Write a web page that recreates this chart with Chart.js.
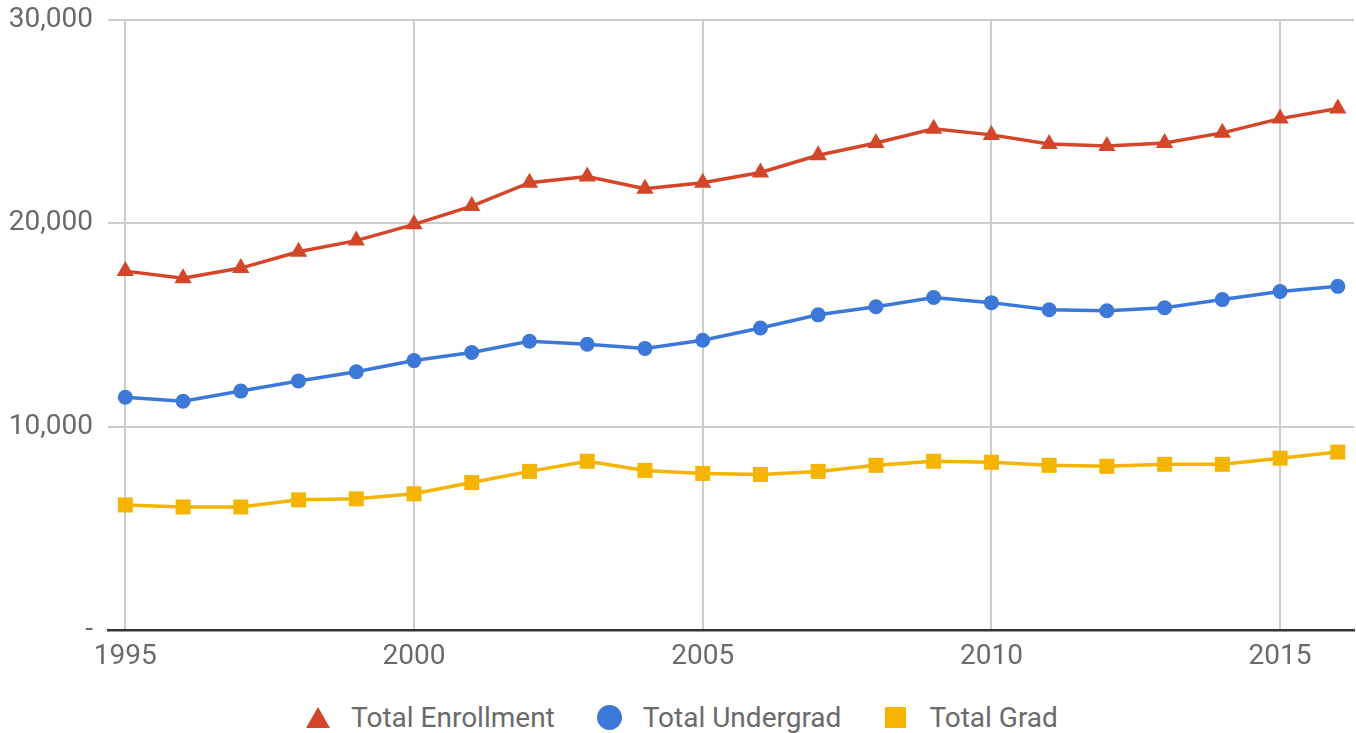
<!DOCTYPE html>
<html>
<head>
<meta charset="utf-8">
<script src="https://cdn.jsdelivr.net/npm/chart.js@4/dist/chart.umd.min.js"></script>
<style>
  html, body { margin: 0; padding: 0; background: #fff; }
  #wrap { position: relative; width: 1356px; height: 733px; }
  #chart { position: absolute; left: 0; top: 0; }
  #legend {
    position: absolute; left: 0; top: 699px; width: 1356px; height: 36px;
    display: flex; justify-content: center; align-items: center;
    padding-left: 7px; box-sizing: border-box;
    font-family: Roboto, sans-serif; font-size: 28px; color: #6a6a6a;
  }
  .item { display: flex; align-items: center; margin: 0 21px; }
  .mark { width: 25px; height: 25px; display: flex; align-items: center; justify-content: center; margin-right: 21px; }
  .tri { width: 0; height: 0; border-left: 12px solid transparent; border-right: 12px solid transparent; border-bottom: 21px solid; }
  .dot { width: 25px; height: 25px; border-radius: 50%; }
  .sq { width: 21px; height: 21px; }
</style>
</head>
<body>
<div id="wrap">
  <canvas id="chart" width="1356" height="690"></canvas>
  <div id="legend"></div>
</div>
<script>
const years = [1995, 1996, 1997, 1998, 1999, 2000, 2001, 2002, 2003, 2004, 2005,
  2006, 2007, 2008, 2009, 2010, 2011, 2012, 2013, 2014, 2015, 2016]
const totalEnrollment = [17650, 17300, 17800, 18600, 19150, 19950, 20850, 22000, 22300, 21700, 22000,
  22500, 23350, 23950, 24650, 24350, 23900, 23800, 23950, 24450, 25150, 25650]
const totalUndergrad = [11450, 11250, 11750, 12250, 12700, 13250, 13650, 14200, 14050, 13850, 14250,
  14850, 15500, 15900, 16350, 16100, 15750, 15700, 15850, 16250, 16650, 16900]
const totalGrad = [6150, 6050, 6050, 6400, 6450, 6700, 7250, 7800, 8300, 7850, 7700,
  7650, 7800, 8100, 8300, 8250, 8100, 8050, 8150, 8150, 8450, 8750]
const yearTicks = [1995, 2000, 2005, 2010, 2015]
const valueTicks = [0, 10000, 20000, 30000]

const textColor = '#6a6a6a'
const gridColor = '#cccccc'

function points(values) {
  return years.map((yr, i) => ({ x: yr, y: values[i] }))
}

function series(label, values, color, style, radius) {
  return {
    label: label,
    data: points(values),
    borderColor: color,
    backgroundColor: color,
    borderWidth: 3.5,
    pointStyle: style,
    pointRadius: radius,
    pointBorderWidth: 0,
    pointHoverRadius: radius,
    tension: 0,
    clip: false
  }
}

const data = {
  datasets: [
    series('Total Enrollment', totalEnrollment, '#d3462a', 'triangle', 10),
    series('Total Undergrad', totalUndergrad, '#3c78d8', 'circle', 7.5),
    series('Total Grad', totalGrad, '#f4b400', 'rect', 10.6)
  ]
}

const chart = new Chart(document.getElementById('chart'), {
  type: 'line',
  data: data,
  options: {
    responsive: false,
    animation: false,
    layout: { autoPadding: false, padding: { top: 20, right: 2, bottom: 0, left: 0 } },
    plugins: {
      legend: { display: false },
      tooltip: { enabled: false }
    },
    scales: {
      x: {
        type: 'linear',
        min: 1994.7,
        max: 2016.28,
        afterBuildTicks: (scale) => { scale.ticks = yearTicks.map(v => ({ value: v })) },
        afterFit: (scale) => {
          scale.height = 60
          scale.paddingLeft = 0
          scale.paddingRight = 0
        },
        grid: { color: gridColor, lineWidth: 2, drawTicks: false },
        border: { display: true, color: '#333333', width: 2.5 },
        ticks: {
          padding: 10,
          color: textColor,
          font: { family: 'Roboto', size: 28 },
          callback: (v) => String(v)
        }
      },
      y: {
        min: 0,
        max: 30000,
        afterBuildTicks: (scale) => { scale.ticks = valueTicks.map(v => ({ value: v })) },
        afterFit: (scale) => {
          scale.width = 108
          scale.paddingTop = 0
          scale.paddingBottom = 0
        },
        grid: { color: gridColor, lineWidth: 2, drawTicks: false },
        border: { display: false },
        ticks: {
          padding: 15,
          color: textColor,
          font: { family: 'Roboto', size: 28 },
          callback: (v) => v === 0 ? '-' : v.toLocaleString('en-US')
        }
      }
    }
  }
})

// legend row under the plot, built from the datasets
const shapes = { triangle: 'tri', circle: 'dot', rect: 'sq' }
const legendEl = document.getElementById('legend')
chart.data.datasets.forEach((ds) => {
  const item = document.createElement('div')
  item.className = 'item'
  const mark = document.createElement('div')
  mark.className = 'mark'
  const shape = document.createElement('div')
  shape.className = shapes[ds.pointStyle]
  if (ds.pointStyle === 'triangle') {
    shape.style.borderBottomColor = ds.borderColor
  } else {
    shape.style.background = ds.borderColor
  }
  mark.appendChild(shape)
  const text = document.createElement('span')
  text.textContent = ds.label
  item.appendChild(mark)
  item.appendChild(text)
  legendEl.appendChild(item)
})
</script>
</body>
</html>
